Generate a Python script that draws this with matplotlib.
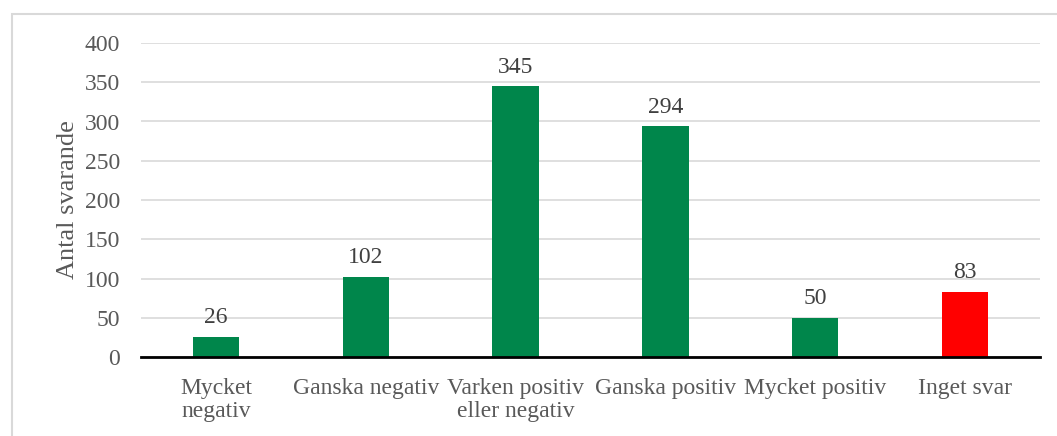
import matplotlib.pyplot as plt
from matplotlib.patches import Rectangle

categories = ["Mycket\nnegativ", "Ganska negativ", "Varken positiv\neller negativ",
              "Ganska positiv", "Mycket positiv", "Inget svar"]
counts = [26, 102, 345, 294, 50, 83]
bar_colors = ["#00864b"] * 5 + ["#ff0000"]

plt.rcParams['font.family'] = ['Liberation Serif', 'DejaVu Serif']

fig = plt.figure(figsize=(10.57, 4.36), dpi=100)
ax = fig.add_axes([141 / 1057, 1 - 357 / 436, (1040 - 141) / 1057, (357 - 43) / 436])

x = range(len(categories))
bars = ax.bar(x, counts, width=0.31, color=bar_colors, zorder=3)

for rect, val in zip(bars, counts):
    ax.text(rect.get_x() + rect.get_width() / 2, val + 11, str(val),
            ha='center', va='bottom', fontsize=17, color='#404040')

ax.set_xlim(-0.5, len(categories) - 0.5)
ax.set_ylim(0, 400)
ax.set_yticks(range(0, 401, 50))
ax.set_xticks(list(x))
ax.set_xticklabels(categories, fontsize=17, color='#595959', linespacing=1.12)
ax.tick_params(axis='y', labelsize=17, labelcolor='#595959', length=0, pad=15)
ax.tick_params(axis='x', length=0, pad=15)
ax.set_ylabel("Antal svarande", fontsize=19, color='#595959', labelpad=4)

ax.grid(axis='y', color='#d9d9d9', linewidth=1.2, zorder=0)
for side in ['top', 'right', 'left']:
    ax.spines[side].set_visible(False)
ax.spines['bottom'].set_color('black')
ax.spines['bottom'].set_linewidth(2)
ax.spines['bottom'].set_zorder(4)

# light frame around the chart area
fig.patches.append(Rectangle((12 / 1057, -0.01), 1.02, 1 - 14 / 436 + 0.01,
                             transform=fig.transFigure, fill=False,
                             edgecolor='#d9d9d9', linewidth=1.5))

fig.savefig("out.png", dpi=100)
